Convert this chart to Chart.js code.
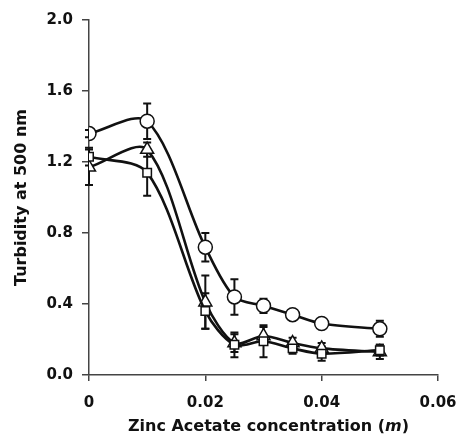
<!DOCTYPE html>
<html>
<head>
<meta charset="utf-8">
<script src="https://cdn.jsdelivr.net/npm/chart.js@4.4.1/dist/chart.umd.min.js"></script>
<style>
  body { margin: 0; background: #fff; }
  #wrap { position: relative; width: 458px; height: 441px; }
  #xtitle {
    position: absolute; left: 64px; width: 409px; top: 416px;
    text-align: center; font: bold 16px "DejaVu Sans", sans-serif; color: #111;
  }
</style>
</head>
<body>
<div id="wrap">
  <canvas id="chart" width="458" height="441"></canvas>
  <div id="xtitle">Zinc Acetate concentration (<i>m</i>)</div>
</div>
<script>
// datos
const concentrations = [0, 0.01, 0.02, 0.025, 0.03, 0.035, 0.04, 0.05];
const circleValues   = [1.36, 1.43, 0.72, 0.44, 0.39, 0.34, 0.29, 0.26];
const circleErrors   = [0.02, 0.10, 0.08, 0.10, 0.04, 0.02, 0.02, 0.045];
const squareValues   = [1.23, 1.14, 0.36, 0.17, 0.19, 0.15, 0.12, 0.14];
const squareErrors   = [0.05, 0.13, 0.10, 0.07, 0.09, 0.03, 0.04, 0.03];
const triangleValues = [1.17, 1.27, 0.41, 0.18, 0.22, 0.18, 0.15, 0.13];
const triangleErrors = [0.10, 0.04, 0.15, 0.05, 0.05, 0.03, 0.03, 0.04];
const xTicks = [0, 0.02, 0.04, 0.06];
const yTicks = [0.0, 0.4, 0.8, 1.2, 1.6, 2.0];

const FONT = '"DejaVu Sans", sans-serif';

function puntos(values, errors) {
  return concentrations.map((x, i) => ({ x: x, y: values[i], err: errors[i] }));
}

// barras de error dibujadas antes de los marcadores
const errorBars = {
  id: 'errorBars',
  beforeDatasetsDraw(chart) {
    const ctx = chart.ctx;
    const xs = chart.scales.x, ys = chart.scales.y;
    ctx.save();
    ctx.strokeStyle = '#111';
    ctx.lineWidth = 2;
    chart.data.datasets.forEach(ds => {
      ds.data.forEach(p => {
        const px = xs.getPixelForValue(p.x);
        const top = ys.getPixelForValue(p.y + p.err);
        const bot = ys.getPixelForValue(p.y - p.err);
        ctx.beginPath();
        ctx.moveTo(px, top); ctx.lineTo(px, bot);
        ctx.moveTo(px - 4, top); ctx.lineTo(px + 4, top);
        ctx.moveTo(px - 4, bot); ctx.lineTo(px + 4, bot);
        ctx.stroke();
      });
    });
    ctx.restore();
  }
};

function serie(label, values, errors, style, radius) {
  return {
    label: label,
    data: puntos(values, errors),
    borderColor: '#111',
    borderWidth: 2.6,
    tension: 0.3,
    pointStyle: style,
    pointRadius: radius,
    pointBackgroundColor: '#fff',
    pointBorderColor: '#111',
    pointBorderWidth: 1.5
  };
}

new Chart(document.getElementById('chart').getContext('2d'), {
  type: 'line',
  data: {
    datasets: [
      serie('circle', circleValues, circleErrors, 'circle', 7),
      serie('square', squareValues, squareErrors, 'rect', 6),
      serie('triangle', triangleValues, triangleErrors, 'triangle', 7.5)
    ]
  },
  options: {
    responsive: false,
    animation: false,
    layout: { padding: { top: 20, right: 20, left: 0, bottom: 0 } },
    plugins: { legend: { display: false }, tooltip: { enabled: false } },
    scales: {
      x: {
        type: 'linear', min: 0, max: 0.06,
        afterBuildTicks: s => { s.ticks = xTicks.map(v => ({ value: v })); },
        afterFit: s => { s.height = 66; s.paddingLeft = 0; s.paddingRight = 0; },
        grid: { drawOnChartArea: false, drawTicks: true, tickLength: 6, color: '#444', lineWidth: 1.5 },
        border: { display: true, color: '#444', width: 1.5 },
        ticks: {
          padding: 13, color: '#111',
          font: { family: FONT, size: 15, weight: 'bold' },
          callback: v => v === 0 ? '0' : String(+v.toFixed(2))
        }
      },
      y: {
        type: 'linear', min: 0, max: 2.0,
        afterBuildTicks: s => { s.ticks = yTicks.map(v => ({ value: v })); },
        afterFit: s => { s.width = 89; s.paddingTop = 0; s.paddingBottom = 0; },
        grid: { drawOnChartArea: false, drawTicks: true, tickLength: 7, color: '#444', lineWidth: 1.5 },
        border: { display: true, color: '#444', width: 1.5 },
        title: {
          display: true, text: 'Turbidity at 500 nm', color: '#111',
          font: { family: FONT, size: 16, weight: 'bold' }, padding: { top: 12, bottom: 0 }
        },
        ticks: {
          padding: 9, color: '#111',
          font: { family: FONT, size: 15, weight: 'bold' },
          callback: v => v.toFixed(1)
        }
      }
    }
  },
  plugins: [errorBars]
});
</script>
</body>
</html>
